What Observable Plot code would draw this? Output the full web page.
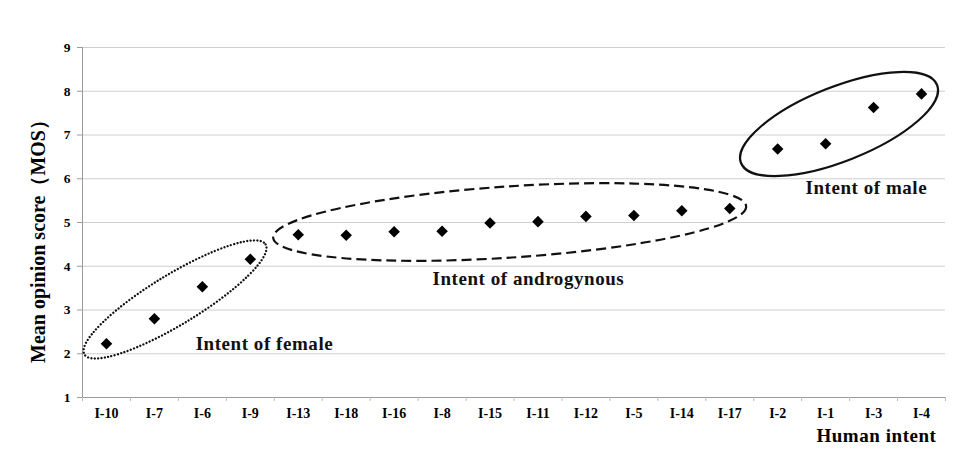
<!DOCTYPE html>
<html>
<head>
<meta charset="utf-8">
<script src="https://cdn.jsdelivr.net/npm/d3@7"></script>
<script src="https://cdn.jsdelivr.net/npm/@observablehq/plot@0.6"></script>
<style>
  html, body { margin: 0; padding: 0; background: #fff; }
</style>
</head>
<body>
<div id="chart"></div>
<script>
// ---- data ----
const intents = ["I-10","I-7","I-6","I-9","I-13","I-18","I-16","I-8","I-15","I-11","I-12","I-5","I-14","I-17","I-2","I-1","I-3","I-4"];
const mos = [2.23, 2.80, 3.53, 4.16, 4.72, 4.71, 4.79, 4.80, 4.99, 5.02, 5.14, 5.16, 5.27, 5.32, 6.68, 6.80, 7.63, 7.94];
const yTicks = [1, 2, 3, 4, 5, 6, 7, 8, 9];
const groupLabels = ["Intent of female", "Intent of androgynous", "Intent of male"];
const groupLabelX = [1.86, 6.80, 14.58];   // category-index position of label start
const groupLabelY = [2.22, 3.71, 5.79];    // MOS value at label centre
const groupCenterX = [1.44, 8.42, 15.29];  // ellipse centres (category index)
const groupCenterY = [3.23, 5.00, 7.24];   // ellipse centres (MOS)
const yLabel = "Mean opinion score（MOS）";
const xLabel = "Human intent";

// ---- annotation styling (pixels / degrees) ----
const ellipseStyle = [
  {rx: 106, ry: 25, angle: 31.3, dash: "0 3.4", width: 2.3, cap: "round"},
  {rx: 237, ry: 35.6, angle: 3.8, dash: "10 5", width: 2.2, cap: "butt"},
  {rx: 105.5, ry: 37.1, angle: 21.7, dash: null, width: 2.2, cap: "butt"}
];

const boundaries = d3.range(intents.length + 1).map(i => i - 0.5);
const serif = "'Liberation Serif', 'Times New Roman', 'DejaVu Serif', serif";

const ellipsesMark = (index, scales) => {
  const g = d3.create("svg:g");
  ellipseStyle.forEach((s, i) => {
    const px = scales.x(groupCenterX[i]);
    const py = scales.y(groupCenterY[i]);
    const e = g.append("ellipse")
      .attr("cx", px).attr("cy", py)
      .attr("rx", s.rx).attr("ry", s.ry)
      .attr("transform", `rotate(${-s.angle} ${px} ${py})`)
      .attr("fill", "none")
      .attr("stroke", "#111")
      .attr("stroke-width", s.width)
      .attr("stroke-linecap", s.cap);
    if (s.dash) e.attr("stroke-dasharray", s.dash);
  });
  return g.node();
};

const chart = Plot.plot({
  width: 958,
  height: 456,
  marginLeft: 82,
  marginRight: 13,
  marginTop: 47,
  marginBottom: 59,
  x: {domain: [-0.5, intents.length - 0.5], axis: null},
  y: {domain: [1, 9], axis: null},
  style: {fontFamily: serif, background: "#fff", color: "#000"},
  marks: [
    Plot.gridY(yTicks, {stroke: "#cfcfcf", strokeOpacity: 1, strokeWidth: 1}),
    Plot.ruleX([-0.5], {stroke: "#9a9a9a"}),
    Plot.ruleY([1], {stroke: "#9a9a9a"}),
    Plot.axisY(yTicks, {tickSize: 5, tickPadding: 7, stroke: "#9a9a9a", fill: "#000", fontSize: 13.5, fontWeight: "bold", label: null}),
    Plot.axisX(boundaries, {tickSize: 4, tickFormat: () => "", stroke: "#bdbdbd", label: null}),
    Plot.axisX(d3.range(intents.length), {tickSize: 0, tickPadding: 11, tickFormat: i => intents[i], fill: "#000", fontSize: 14, fontWeight: "bold", label: null}),
    Plot.text([yLabel], {frameAnchor: "left", textAnchor: "middle", rotate: -90, dx: -44, dy: 14, fontSize: 20, fontWeight: "bold", fill: "#000"}),
    Plot.text([xLabel], {frameAnchor: "bottom-right", textAnchor: "end", dx: -9, dy: 44, fontSize: 19, fontWeight: "bold", fill: "#000"}),
    ellipsesMark,
    Plot.dot(mos, {x: (d, i) => i, y: d => d, symbol: "diamond2", r: 5.2, fill: "#000", stroke: "none"}),
    Plot.text(groupLabels, {x: (d, i) => groupLabelX[i], y: (d, i) => groupLabelY[i], textAnchor: "start", fontSize: 19, fontWeight: "bold", fill: "#111"})
  ]
});

// slightly wider letter spacing, as in the original's typeface
d3.select(chart).selectAll("text")
  .filter(function() { return groupLabels.includes(this.textContent) || this.textContent === xLabel; })
  .style("letter-spacing", "0.55px");

document.getElementById("chart").appendChild(chart);
</script>
</body>
</html>
